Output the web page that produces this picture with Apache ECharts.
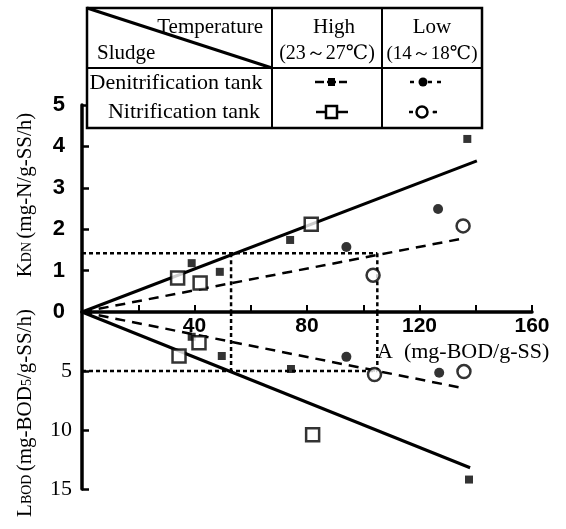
<!DOCTYPE html>
<html>
<head>
<meta charset="utf-8">
<script src="https://cdn.jsdelivr.net/npm/echarts@6/dist/echarts.min.js"></script>
<style>
html,body{margin:0;padding:0;background:#fff;}
#main{width:566px;height:529px;}
</style>
</head>
<body>
<div id="main"></div>
<script>
// 上半部 KDN
var denitHighK = [[39, 1.18], [49, 0.97], [74, 1.74], [137, 4.18]];
var nitHighK = [[34, 0.82], [42, 0.70], [81.5, 2.12]];
var denitLowK = [[94, 1.57], [126.6, 2.49]];
var nitLowK = [[103.5, 0.89], [135.5, 2.08]];
// 下半部 LBOD
var denitHighL = [[39, 2.1], [49.7, 3.73], [74.3, 4.83], [137.6, 14.2]];
var nitHighL = [[34.5, 3.73], [41.6, 2.6], [82, 10.4]];
var denitLowL = [[94, 3.8], [127, 5.15]];
var nitLowL = [[104, 5.3], [135.8, 5.05]];
// 回归线
var fitHighK = [[0, 0], [140.4, 3.65]];
var fitLowK = [[0, 0], [136.5, 1.79]];
var fitHighL = [[0, 0], [138, 13.2]];
var fitLowL = [[0, 0], [135.5, 6.45]];
// 参考虚线
var kRef = 1.42, lRef = 5, aHigh = 53, aLow = 105;
var xTicks = [40, 80, 120, 160];

var serif = '"Liberation Serif","DejaVu Serif",serif';
var sans = '"Liberation Sans",Arial,sans-serif';

var myChart = echarts.init(document.getElementById('main'));

function fitLine(data, idx, dashed){
	return {
		type: 'line', xAxisIndex: idx, yAxisIndex: idx, data: data,
		symbol: 'none', silent: true, z: 2,
		lineStyle: {color: '#000', width: dashed ? 2.5 : 3, type: dashed ? [10, 7] : 'solid'}
	};
}
function refLine(data, idx){
	return {
		type: 'line', xAxisIndex: idx, yAxisIndex: idx, data: data,
		symbol: 'none', silent: true, z: 1,
		lineStyle: {color: '#000', width: 2.5, type: [4, 3]}
	};
}
function dots(data, idx, shape, open){
	var size = open ? 13 : (shape == 'rect' ? 8 : 10);
	return {
		type: 'scatter', xAxisIndex: idx, yAxisIndex: idx, data: data,
		symbol: shape, symbolSize: size, z: 5,
		itemStyle: open ? {color: '#fff', borderColor: '#000', borderWidth: 2.5} : {color: '#000'}
	};
}
function txt(x, y, s, size, align){
	return {type: 'text', x: x, y: y, z: 12, style: {text: s, font: size + 'px ' + serif, fill: '#000', align: align || 'center', verticalAlign: 'middle'}};
}

// 图例表格
var tx = 87, ty = 8, c1 = 272, c2 = 382, tr = 482, h1 = 68, tb = 128;
var tableLine = {stroke: '#000', lineWidth: 2};
var graphics = [
	{type: 'rect', shape: {x: tx, y: ty, width: tr - tx, height: tb - ty}, style: {fill: '#fff', stroke: '#000', lineWidth: 2.5}, z: 10},
	{type: 'line', shape: {x1: tx, y1: h1, x2: tr, y2: h1}, style: tableLine, z: 11},
	{type: 'line', shape: {x1: c1, y1: ty, x2: c1, y2: tb}, style: tableLine, z: 11},
	{type: 'line', shape: {x1: c2, y1: ty, x2: c2, y2: tb}, style: tableLine, z: 11},
	{type: 'line', shape: {x1: tx, y1: ty, x2: c1, y2: h1}, style: {stroke: '#000', lineWidth: 3}, z: 11},
	txt(263, 27, 'Temperature', 21, 'right'),
	txt(97, 53, 'Sludge', 21, 'left'),
	txt(334, 27, 'High', 21),
	txt(327, 54, '(23～27℃)', 20),
	txt(432, 27, 'Low', 21),
	txt(432, 54, '(14～18℃)', 19),
	txt(176, 83, 'Denitrification tank', 22),
	txt(184, 112, 'Nitrification tank', 22),
	// 图例符号
	{type: 'line', shape: {x1: 315, y1: 82, x2: 347, y2: 82}, style: {stroke: '#000', lineWidth: 2.5, lineDash: [9, 3]}, z: 12},
	{type: 'rect', shape: {x: 328, y: 78, width: 7, height: 8}, style: {fill: '#000'}, z: 13},
	{type: 'line', shape: {x1: 316, y1: 112, x2: 348, y2: 112}, style: {stroke: '#000', lineWidth: 2.5}, z: 12},
	{type: 'rect', shape: {x: 326, y: 106, width: 11, height: 12}, style: {fill: '#fff', stroke: '#000', lineWidth: 2.5}, z: 13},
	{type: 'line', shape: {x1: 410, y1: 82, x2: 441, y2: 82}, style: {stroke: '#000', lineWidth: 2.5, lineDash: [4, 5]}, z: 12},
	{type: 'circle', shape: {cx: 423, cy: 82, r: 4.5}, style: {fill: '#000'}, z: 13},
	{type: 'line', shape: {x1: 409, y1: 112, x2: 437, y2: 112}, style: {stroke: '#000', lineWidth: 2.5, lineDash: [4, 22]}, z: 12},
	{type: 'circle', shape: {cx: 422, cy: 112, r: 5.5}, style: {fill: '#fff', stroke: '#000', lineWidth: 2.5}, z: 13},
	{type: 'circle', shape: {cx: 434, cy: 112, r: 1.5}, style: {fill: '#000'}, z: 13},
	// 坐标轴标题
	{type: 'text', x: 25, y: 195, rotation: Math.PI / 2, z: 12, style: {
		text: '{b|K}{s|DN} {b|(mg-N/g-SS/h)}', align: 'center', verticalAlign: 'middle', fill: '#000',
		rich: {b: {font: '21px ' + serif, fill: '#000'}, s: {font: '14px ' + serif, fill: '#000', padding: [5, 0, 0, 0]}}
	}},
	{type: 'text', x: 25, y: 413, rotation: Math.PI / 2, z: 12, style: {
		text: '{b|L}{s|BOD} {b|(mg-BOD}{s|5}{b|/g-SS/h)}', align: 'center', verticalAlign: 'middle', fill: '#000',
		rich: {b: {font: '21px ' + serif, fill: '#000'}, s: {font: '14px ' + serif, fill: '#000', padding: [5, 0, 0, 0]}}
	}},
	txt(377, 352, 'A  (mg-BOD/g-SS)', 22, 'left')
];

var option = {
	animation: false,
	backgroundColor: '#fff',
	grid: [
		{left: 82, right: 34, top: 105, height: 207},
		{left: 82, right: 34, top: 312, height: 177}
	],
	xAxis: [
		{
			gridIndex: 0, type: 'value', min: 0, max: 160, interval: 20, position: 'bottom',
			axisLine: {show: true, onZero: false, lineStyle: {color: '#000', width: 3.5}},
			axisTick: {show: true, inside: true, length: 7, lineStyle: {color: '#000', width: 2}},
			axisLabel: {
				margin: 4, color: '#000', fontSize: 21, fontWeight: 'bold', fontFamily: sans,
				formatter: function(v){ return xTicks.indexOf(v) >= 0 ? String(v) : ''; }
			},
			splitLine: {show: false}
		},
		{
			gridIndex: 1, type: 'value', min: 0, max: 160, interval: 20, position: 'top', show: false
		}
	],
	yAxis: [
		{
			gridIndex: 0, type: 'value', min: 0, max: 5, interval: 1,
			axisLine: {show: true, onZero: false, lineStyle: {color: '#000', width: 3.5}},
			axisTick: {show: true, inside: true, length: 7, lineStyle: {color: '#000', width: 2.5}},
			axisLabel: {margin: 17, color: '#000', fontSize: 22, fontWeight: 'bold', fontFamily: sans},
			splitLine: {show: false}
		},
		{
			gridIndex: 1, type: 'value', min: 0, max: 15, interval: 5, inverse: true,
			axisLine: {show: true, onZero: false, lineStyle: {color: '#000', width: 3.5}},
			axisTick: {show: true, inside: true, length: 7, lineStyle: {color: '#000', width: 2.5}},
			axisLabel: {
				margin: 10, color: '#000', fontSize: 22, fontFamily: serif,
				formatter: function(v){ return v == 0 ? '' : String(v); }
			},
			splitLine: {show: false}
		}
	],
	series: [
		refLine([[0, kRef], [aLow, kRef]], 0),
		refLine([[aHigh, kRef], [aHigh, 0]], 0),
		refLine([[aLow, kRef], [aLow, 0]], 0),
		refLine([[0, lRef], [aLow, lRef]], 1),
		refLine([[aHigh, 0], [aHigh, lRef]], 1),
		refLine([[aLow, 0], [aLow, lRef]], 1),
		fitLine(fitHighK, 0, false),
		fitLine(fitLowK, 0, true),
		fitLine(fitHighL, 1, false),
		fitLine(fitLowL, 1, true),
		dots(denitHighK, 0, 'rect', false),
		dots(nitHighK, 0, 'rect', true),
		dots(denitLowK, 0, 'circle', false),
		dots(nitLowK, 0, 'circle', true),
		dots(denitHighL, 1, 'rect', false),
		dots(nitHighL, 1, 'rect', true),
		dots(denitLowL, 1, 'circle', false),
		dots(nitLowL, 1, 'circle', true)
	],
	graphic: graphics
};
myChart.setOption(option);
</script>
</body>
</html>
